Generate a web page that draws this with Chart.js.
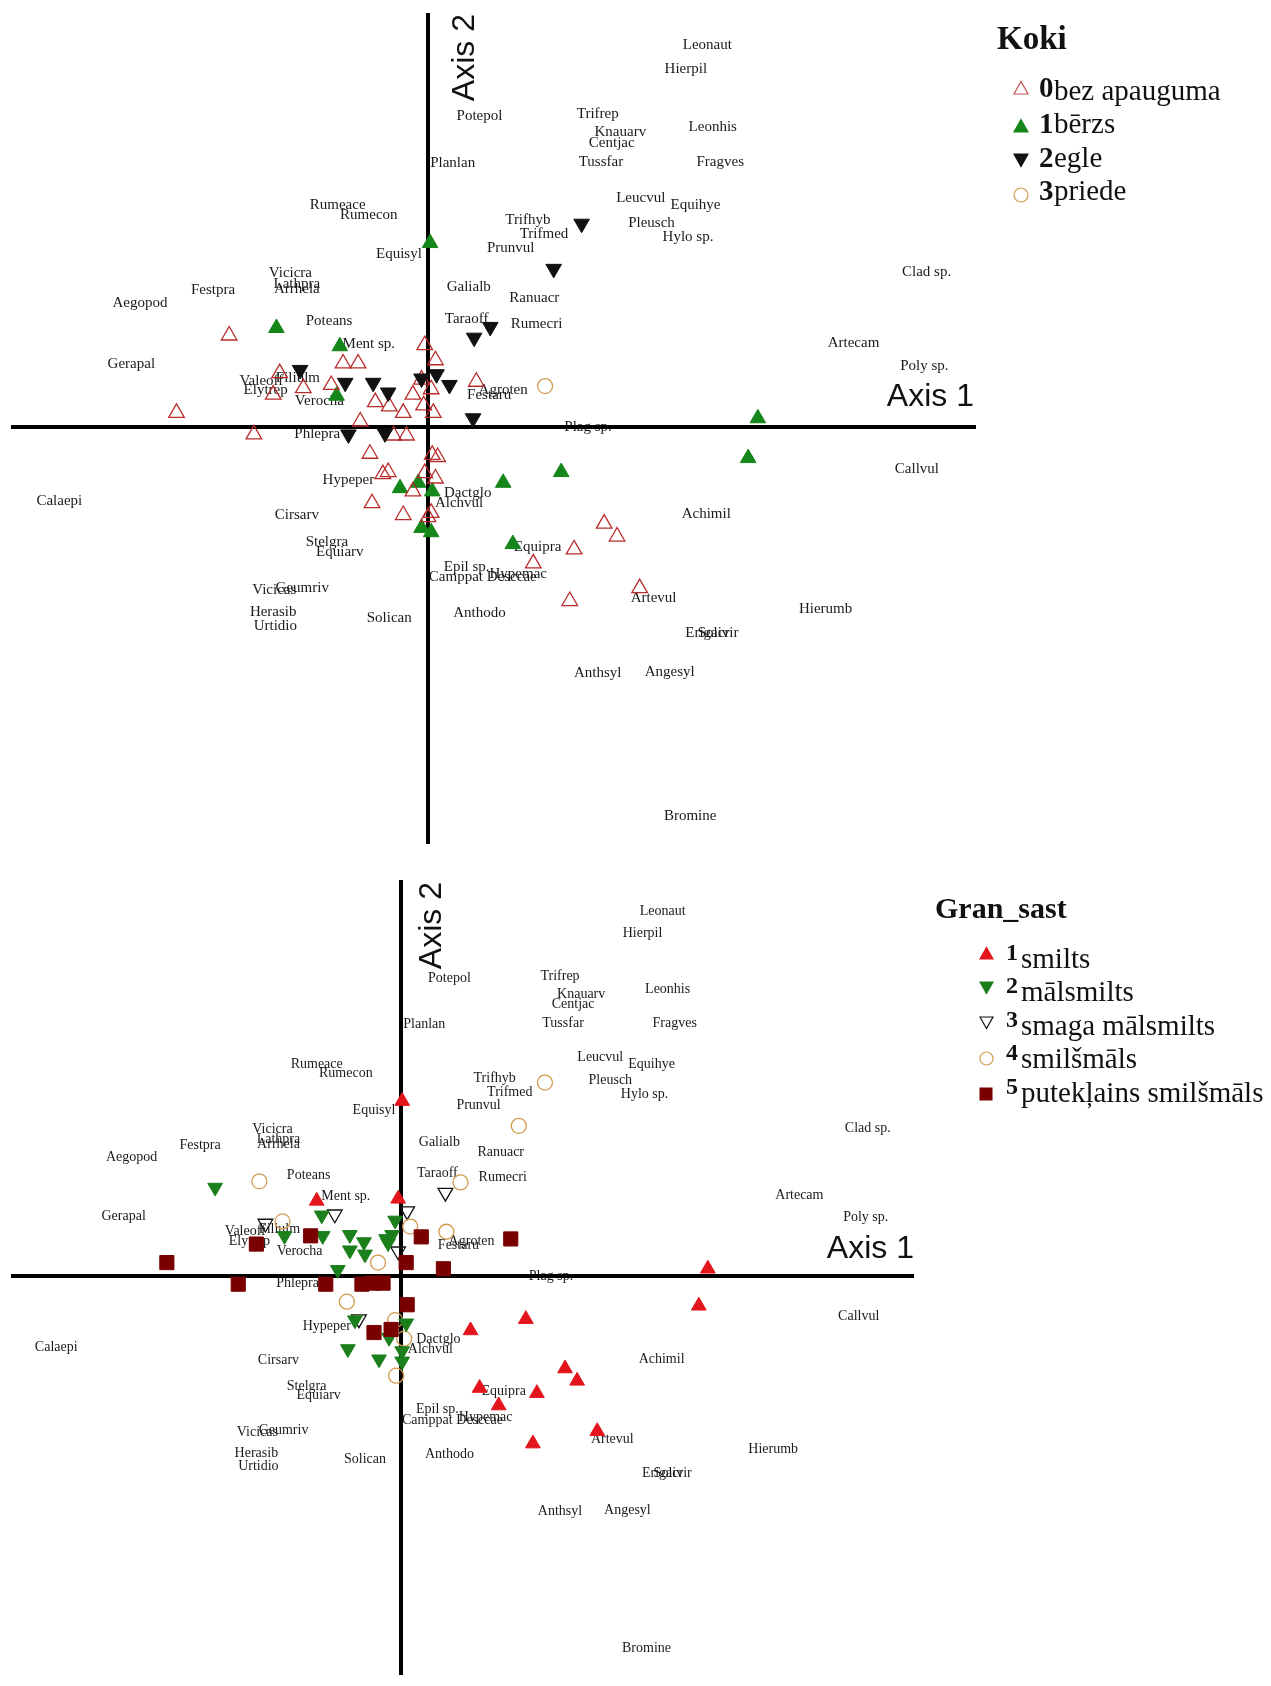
<!DOCTYPE html>
<html>
<head>
<meta charset="utf-8">
<script src="https://cdn.jsdelivr.net/npm/chart.js@4.4.1/dist/chart.umd.min.js"></script>
<style>
  html, body { margin:0; padding:0; background:#fff; }
  #page { position:relative; width:1271px; height:1686px; overflow:hidden; background:#fff; }
  .cv { position:absolute; left:0; }
  .lg { position:absolute; font-family:"Liberation Serif","Times New Roman",serif; color:#111; white-space:nowrap; }
  .mk { position:absolute; }
</style>
</head>
<body>
<div id="page">
  <canvas id="topChart" class="cv" width="1271" height="860" style="top:0px;width:1271px;height:860px"></canvas>
  <canvas id="botChart" class="cv" width="1271" height="826" style="top:860px;width:1271px;height:826px"></canvas>
  <div id="legends"></div>
</div>
<script>
// ---------------- DATA (ordination scores, arbitrary axis units) ----------------
const axis1Title = "Axis 1";
const axis2Title = "Axis 2";
const axisXRange = [-3.88, 5.10];
const axisYRange = [-3.88, 3.85];

const speciesNames = ["Leonaut","Hierpil","Potepol","Trifrep","Knauarv","Centjac","Leonhis","Planlan","Tussfar","Fragves",
  "Leucvul","Equihye","Pleusch","Hylo sp.","Rumeace","Rumecon","Trifhyb","Trifmed","Prunvul","Equisyl",
  "Clad sp.","Vicicra","Lathpra","Arrhela","Festpra","Galialb","Aegopod","Ranuacr","Poteans","Taraoff",
  "Rumecri","Ment sp.","Artecam","Gerapal","Poly sp.","Valeoff","Filiulm","Elytrep","Verocha","Agroten",
  "Festaru","Plag sp.","Phlepra","Callvul","Hypeper","Dactglo","Alchvul","Calaepi","Cirsarv","Achimil",
  "Stelgra","Equiarv","Equipra","Epil sp.","Camppat","Hypemac","Desccae","Artevul","Hierumb","Vicicas",
  "Geumriv","Herasib","Urtidio","Solican","Anthodo","Erigacr","Solivir","Anthsyl","Angesyl","Bromine"];
const speciesX = [2.60,2.40,0.48,1.58,1.79,1.71,2.65,0.23,1.61,2.72,
  1.98,2.49,2.08,2.42,-0.84,-0.55,0.93,1.08,0.77,-0.27,
  4.64,-1.28,-1.22,-1.22,-2.00,0.38,-2.68,0.99,-0.92,0.36,
  1.01,-0.55,3.96,-2.76,4.62,-1.55,-1.21,-1.51,-1.01,0.70,
  0.57,1.49,-1.03,4.55,-0.74,0.37,0.29,-3.43,-1.22,2.59,
  -0.94,-0.82,1.02,0.36,0.26,0.84,0.78,2.10,3.70,-1.43,
  -1.17,-1.44,-1.42,-0.36,0.48,2.60,2.70,1.58,2.25,2.44];
const speciesY = [3.55,3.33,2.89,2.91,2.74,2.64,2.79,2.45,2.46,2.46,
  2.13,2.06,1.90,1.77,2.06,1.97,1.92,1.79,1.66,1.61,
  1.44,1.43,1.33,1.28,1.27,1.30,1.15,1.20,0.98,1.00,
  0.96,0.77,0.78,0.58,0.57,0.43,0.45,0.34,0.24,0.34,
  0.30,0.00,-0.07,-0.39,-0.49,-0.62,-0.71,-0.69,-0.82,-0.81,
  -1.07,-1.16,-1.12,-1.30,-1.40,-1.37,-1.40,-1.59,-1.69,-1.52,
  -1.50,-1.72,-1.85,-1.78,-1.73,-1.92,-1.92,-2.29,-2.28,-3.62];

// Koki (trees) groups — sample scores
const kokiLabels = ["bez apauguma","bērzs","egle","priede"];
const kokiBezApaugumaPts = [[-1.85,0.85],[-2.34,0.13],[-1.62,-0.07],[-1.38,0.50],[-1.16,0.36],[-0.90,0.39],[-1.44,0.30],
  [-0.79,0.59],[-0.65,0.59],[-0.03,0.76],[0.07,0.62],[-0.49,0.23],[-0.36,0.19],[-0.23,0.13],[-0.14,0.30],[0.03,0.35],
  [-0.04,0.20],[0.05,0.13],[0.45,0.42],[-0.63,0.05],[-0.32,-0.08],[-0.20,-0.08],[-0.54,-0.25],[0.04,-0.26],[0.09,-0.28],
  [-0.42,-0.44],[-0.37,-0.42],[-0.03,-0.43],[0.07,-0.48],[-0.14,-0.60],[-0.52,-0.71],[-0.23,-0.82],[0.03,-0.80],[0.00,-0.84],
  [1.36,-1.14],[1.64,-0.90],[1.76,-1.02],[0.98,-1.27],[1.97,-1.50],[1.32,-1.62],[-0.06,0.44]];
const kokiBerzsPts = [[-1.41,0.92],[-0.82,0.75],[-0.85,0.29],[0.02,1.71],[-0.26,-0.57],[-0.09,-0.52],[0.04,-0.60],
  [0.70,-0.52],[1.24,-0.42],[3.07,0.08],[2.98,-0.29],[0.79,-1.09],[-0.06,-0.94],[0.03,-0.98]];
const kokiEglePts = [[1.43,1.89],[1.17,1.47],[0.43,0.83],[0.58,0.93],[-1.19,0.53],[-0.77,0.41],[-0.51,0.41],
  [-0.37,0.32],[-0.06,0.45],[0.08,0.49],[0.20,0.39],[0.42,0.08],[-0.74,-0.07],[-0.40,-0.06]];
const kokiPriedePts = [[1.09,0.38]];

// Gran_sast (soil texture) groups — same samples
const granLabels = ["smilts","mālsmilts","smaga mālsmilts","smilšmāls","putekļains smilšmāls"];
const granSmiltsPts = [[0.01,1.70],[-0.84,0.73],[-0.03,0.75],[3.05,0.07],[2.96,-0.29],[1.24,-0.42],[0.69,-0.53],
  [1.63,-0.90],[1.75,-1.02],[0.78,-1.09],[1.35,-1.14],[0.97,-1.26],[1.95,-1.51],[1.31,-1.63]];
const granMalsmiltsPts = [[-1.85,0.86],[-0.79,0.59],[-1.16,0.39],[-0.78,0.39],[-0.51,0.40],[-0.51,0.25],[-0.37,0.33],
  [-0.36,0.21],[-0.13,0.32],[-0.09,0.40],[-0.06,0.54],[-0.63,0.06],[-0.46,-0.43],[0.05,-0.46],[-0.53,-0.71],
  [-0.22,-0.81],[0.01,-0.73],[0.01,-0.83],[-0.12,-0.60],[-0.15,0.36]];
const granSmagaMalsmiltsPts = [[-0.66,0.60],[-1.35,0.51],[0.06,0.63],[0.44,0.81],[-0.03,0.24],[-0.42,-0.42]];
const granSmilsmalsPts = [[-1.41,0.92],[-1.18,0.53],[0.09,0.48],[-0.23,0.13],[1.43,1.88],[1.17,1.46],[0.59,0.91],
  [0.45,0.43],[-0.54,-0.25],[-0.06,-0.43],[0.03,-0.61],[-0.05,-0.97]];
const granPutekPts = [[-2.33,0.13],[-1.62,-0.08],[-0.75,-0.08],[-0.39,-0.08],[-0.29,-0.07],[-0.18,-0.07],[-1.44,0.31],
  [-0.90,0.39],[0.20,0.38],[0.05,0.13],[0.06,-0.28],[-0.27,-0.55],[-0.10,-0.52],[1.09,0.36],[0.42,0.07]];

// ---------------- CHART BUILD ----------------
const toXY = pts => pts.map(p => ({x:p[0], y:p[1]}));
const speciesData = speciesNames.map((n,i) => ({x:speciesX[i], y:speciesY[i]}));

const ordPlugin = {
  id: 'ord',
  beforeDatasetsDraw(chart, args, o) {
    const ctx = chart.ctx, xs = chart.scales.x, ys = chart.scales.y, ca = chart.chartArea;
    const meta = chart.getDatasetMeta(0);
    ctx.save();
    ctx.font = o.labelFont;
    ctx.fillStyle = '#1a1a1a';
    ctx.textAlign = 'center';
    ctx.textBaseline = 'middle';
    meta.data.forEach((el, i) => ctx.fillText(speciesNames[i], el.x, el.y));
    const x0 = Math.round(xs.getPixelForValue(0)), y0 = Math.round(ys.getPixelForValue(0));
    ctx.strokeStyle = '#000';
    ctx.lineWidth = 4;
    ctx.beginPath();
    ctx.moveTo(ca.left, y0); ctx.lineTo(ca.right, y0);
    ctx.moveTo(x0, ca.top); ctx.lineTo(x0, ca.bottom);
    ctx.stroke();
    ctx.font = o.axisFont;
    ctx.fillStyle = '#111';
    ctx.textAlign = 'right';
    ctx.textBaseline = 'alphabetic';
    ctx.fillText(axis1Title, ca.right - o.a1dx, y0 - o.a1dy);
    ctx.translate(x0 + o.a2dx, ca.top + o.a2dy);
    ctx.rotate(-Math.PI / 2);
    ctx.textAlign = 'right';
    ctx.textBaseline = 'middle';
    ctx.fillText(axis2Title, 0, 0);
    ctx.restore();
  }
};

function makeChart(id, datasets, pad, ordOpts) {
  return new Chart(document.getElementById(id), {
    type: 'scatter',
    data: { datasets: [{ label: 'species', data: speciesData, pointRadius: 0, pointHoverRadius: 0 }].concat(datasets) },
    options: {
      responsive: false, animation: false, devicePixelRatio: 1, events: [],
      layout: { padding: pad },
      plugins: { legend: { display: false }, tooltip: { enabled: false }, ord: ordOpts },
      scales: {
        x: { type: 'linear', display: false, min: axisXRange[0], max: axisXRange[1] },
        y: { type: 'linear', display: false, min: axisYRange[0], max: axisYRange[1] }
      }
    },
    plugins: [ordPlugin]
  });
}

const TR = 9, BR = 8.5;
makeChart('topChart', [
  { label: kokiLabels[2], data: toXY(kokiEglePts), pointStyle: 'triangle', rotation: 180, radius: TR,
    backgroundColor: '#111', borderColor: '#111', borderWidth: 1 },
  { label: kokiLabels[0], data: toXY(kokiBezApaugumaPts), pointStyle: 'triangle', radius: TR,
    backgroundColor: 'rgba(255,255,255,0)', borderColor: '#b82c2c', borderWidth: 1.3 },
  { label: kokiLabels[1], data: toXY(kokiBerzsPts), pointStyle: 'triangle', radius: TR,
    backgroundColor: '#14861a', borderColor: '#14861a', borderWidth: 1 },
  { label: kokiLabels[3], data: toXY(kokiPriedePts), pointStyle: 'circle', radius: 7.5,
    backgroundColor: 'rgba(255,255,255,0)', borderColor: '#d29b4e', borderWidth: 1.3 }
], { left: 11, right: 295, top: 13, bottom: 16 },
 { labelFont: "15px 'Liberation Serif', 'Times New Roman', serif", axisFont: "32px 'Liberation Sans', Arial, sans-serif",
   a1dx: 2, a1dy: 21, a2dx: 37, a2dy: 1 });

makeChart('botChart', [
  { label: granLabels[4], data: toXY(granPutekPts), pointStyle: 'rect', radius: 10,
    backgroundColor: '#7a0000', borderColor: '#7a0000', borderWidth: 1 },
  { label: granLabels[1], data: toXY(granMalsmiltsPts), pointStyle: 'triangle', rotation: 180, radius: BR,
    backgroundColor: '#1b7f1b', borderColor: '#1b7f1b', borderWidth: 1 },
  { label: granLabels[3], data: toXY(granSmilsmalsPts), pointStyle: 'circle', radius: 7.5,
    backgroundColor: 'rgba(255,255,255,0)', borderColor: '#d29b4e', borderWidth: 1.3 },
  { label: granLabels[2], data: toXY(granSmagaMalsmiltsPts), pointStyle: 'triangle', rotation: 180, radius: BR,
    backgroundColor: 'rgba(255,255,255,0)', borderColor: '#111', borderWidth: 1.3 },
  { label: granLabels[0], data: toXY(granSmiltsPts), pointStyle: 'triangle', radius: BR,
    backgroundColor: '#e3141b', borderColor: '#e3141b', borderWidth: 1 }
], { left: 9, right: 357, top: 20, bottom: 9 },
 { labelFont: "14px 'Liberation Serif', 'Times New Roman', serif", axisFont: "32px 'Liberation Sans', Arial, sans-serif",
   a1dx: 0, a1dy: 18, a2dx: 31, a2dy: 2 });

// ---------------- LEGENDS (HTML text) ----------------
function svgMarker(kind, fill, stroke, cx, cy, size) {
  const s = size, h = s;
  let shape = '';
  if (kind === 'up') shape = `<polygon points="${s/2},1.5 ${s-1},${h-2} 1,${h-2}" fill="${fill}" stroke="${stroke}" stroke-width="1.2"/>`;
  if (kind === 'down') shape = `<polygon points="1,2 ${s-1},2 ${s/2},${h-1.5}" fill="${fill}" stroke="${stroke}" stroke-width="1.2"/>`;
  if (kind === 'circle') shape = `<circle cx="${s/2}" cy="${s/2}" r="${s/2-1}" fill="${fill}" stroke="${stroke}" stroke-width="1.2"/>`;
  if (kind === 'rect') shape = `<rect x="1" y="1" width="${s-2}" height="${s-2}" fill="${fill}" stroke="${stroke}"/>`;
  return `<svg class="mk" width="${s}" height="${h}" style="left:${cx - s/2}px;top:${cy - h/2}px">${shape}</svg>`;
}
function txt(text, left, baseline, size, bold) {
  const top = baseline - 0.8375 * size;
  return `<div class="lg" style="left:${left}px;top:${top}px;font-size:${size}px;line-height:${size}px;${bold ? 'font-weight:bold;' : ''}">${text}</div>`;
}
let html = '';
// Top legend: Koki
html += txt('Koki', 997, 50, 33, true);
const kokiMk = [['up','none','#c0504d'],['up','#14861a','#14861a'],['down','#111','#111'],['circle','none','#d29b4e']];
const kokiMkY = [88, 126, 160, 195];
const kokiBase = [100, 133, 167, 200];
const kokiNumBase = [97, 133, 167, 200];
kokiLabels.forEach((l, i) => {
  html += svgMarker(kokiMk[i][0], kokiMk[i][1], kokiMk[i][2], 1021, kokiMkY[i], 16);
  html += txt(String(i), 1039, kokiNumBase[i], 29, true);
  html += txt(l, 1054, kokiBase[i], 29, false);
});
// Bottom legend: Gran_sast
html += txt('Gran_sast', 935, 918, 30, true);
const granMk = [['up','#e3141b','#e3141b'],['down','#1b7f1b','#1b7f1b'],['down','none','#111'],['circle','none','#d29b4e'],['rect','#7a0000','#7a0000']];
const granMkY = [953, 987, 1022, 1058, 1094];
const granBase = [968, 1001.5, 1035, 1068.5, 1102];
granLabels.forEach((l, i) => {
  html += svgMarker(granMk[i][0], granMk[i][1], granMk[i][2], 986, granMkY[i], i === 4 ? 14 : 15);
  html += txt(String(i + 1), 1006, granBase[i] - 8, 24, true);
  html += txt(l, 1021, granBase[i], 29, false);
});
document.getElementById('legends').innerHTML = html;
</script>
</body>
</html>
